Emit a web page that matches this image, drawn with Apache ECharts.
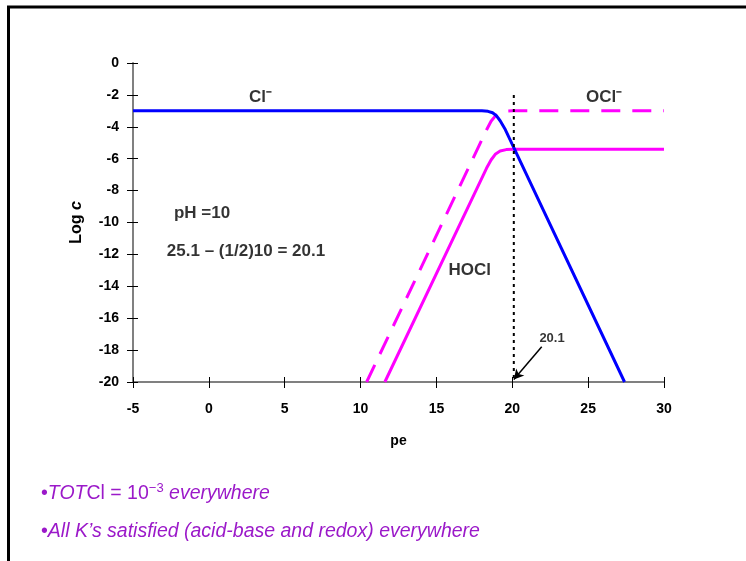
<!DOCTYPE html>
<html>
<head>
    <meta charset="utf-8">
    <title>Log c vs pe</title>
    <script src="https://cdn.jsdelivr.net/npm/echarts@6/dist/echarts.min.js"></script>
    <style>
        html, body { margin: 0; padding: 0; background: #fff; }
        #main { width: 746px; height: 561px; }
    </style>
</head>
<body>
<div id="main"></div>
<script type="text/javascript">
    // 轴刻度
    var xTicks = [-5, 0, 5, 10, 15, 20, 25, 30];
    var yTicks = [0, -2, -4, -6, -8, -10, -12, -14, -16, -18, -20];

    // Cl- (blue)
    var clMinus = [[-5, -3], [18.0, -3], [18.4, -3.03], [18.7, -3.12], [18.95, -3.3],
                   [19.2, -3.62], [19.5, -4.1], [27.4, -20]];
    // OCl- (dashed magenta)
    var oclMinus = [[10.4, -20], [18.3, -4.2], [18.6, -3.65], [18.9, -3.3], [19.2, -3.1],
                    [19.6, -3.02], [20, -3], [30, -3]];
    // HOCl (solid magenta)
    var hocl = [[11.6, -20], [18.3, -6.6], [18.6, -6.08], [18.9, -5.7], [19.2, -5.52],
                [19.6, -5.43], [20, -5.4], [30, -5.4]];
    // pe = 20.1 marker
    var peMark = [[20.1, -2], [20.1, -20]];
    var arrowFrom = [21.94, -17.79];
    var arrowTo = [20.1, -19.85];

    // chart text labels [pe, logc, text]
    var notes = [
        [3.4, -2.13, 'Cl\u207B'],
        [26.05, -2.13, 'OCl\u207B'],
        [17.2, -12.98, 'HOCl'],
        [-0.45, -9.42, 'pH =10'],
        [2.45, -11.83, '25.1 \u2013 (1/2)10 = 20.1']
    ];

    var myChart = echarts.init(document.getElementById('main'));
    var purple = '#9b19c9';
    var fontFam = 'Arial, "Liberation Sans", sans-serif';

    myChart.setOption({
        animation: false,
        backgroundColor: '#fff',
        grid: { left: 133, right: 82, top: 63, bottom: 179 },
        xAxis: [{
            type: 'value', min: -5, max: 30, interval: 5,
            name: 'pe', nameLocation: 'middle', nameGap: 52,
            nameTextStyle: { fontWeight: 'bold', fontSize: 14, color: '#000', fontFamily: fontFam },
            axisLine: { onZero: false, lineStyle: { color: '#808080', width: 2 } },
            axisTick: { length: 6, lineStyle: { color: '#000', width: 1 } },
            axisLabel: { fontWeight: 'bold', fontSize: 14, color: '#000', margin: 20, fontFamily: fontFam },
            splitLine: { show: false }
        }, {
            // 内侧刻度
            type: 'value', min: -5, max: 30, interval: 5, position: 'bottom',
            axisLine: { show: false, onZero: false },
            axisTick: { inside: true, length: 5, lineStyle: { color: '#000', width: 1 } },
            axisLabel: { show: false },
            splitLine: { show: false }
        }],
        yAxis: [{
            type: 'value', min: -20, max: 0, interval: 2,
            name: 'Log {i|c}', nameLocation: 'middle', nameGap: 48, nameRotate: 90,
            nameTextStyle: {
                fontWeight: 'bold', fontSize: 16, color: '#000', fontFamily: fontFam,
                rich: { i: { fontStyle: 'italic', fontWeight: 'bold', fontSize: 16, fontFamily: fontFam } }
            },
            axisLine: { onZero: false, lineStyle: { color: '#808080', width: 2 } },
            axisTick: { length: 6, lineStyle: { color: '#000', width: 1 } },
            axisLabel: { fontWeight: 'bold', fontSize: 14, color: '#000', margin: 14, fontFamily: fontFam },
            splitLine: { show: false }
        }, {
            type: 'value', min: -20, max: 0, interval: 2, position: 'left',
            axisLine: { show: false, onZero: false },
            axisTick: { inside: true, length: 5, lineStyle: { color: '#000', width: 1 } },
            axisLabel: { show: false },
            splitLine: { show: false }
        }],
        series: [{
            name: 'Cl-', type: 'line', data: clMinus, symbol: 'none', z: 5,
            lineStyle: { color: '#0000ff', width: 3 }
        }, {
            name: 'OCl-', type: 'line', data: oclMinus, symbol: 'none', z: 4,
            lineStyle: { color: '#ff00ff', width: 3, type: [19, 12] }
        }, {
            name: 'HOCl', type: 'line', data: hocl, symbol: 'none', z: 4,
            lineStyle: { color: '#ff00ff', width: 3 }
        }, {
            name: 'mark', type: 'line', data: peMark, symbol: 'none', z: 6,
            lineStyle: { color: '#000', width: 2, type: [3, 4] },
            markLine: {
                silent: true, symbol: ['none', 'arrow'], symbolSize: [8, 10],
                lineStyle: { color: '#000', width: 1.5, type: 'solid' },
                label: { show: false },
                data: [[{ coord: arrowFrom }, { coord: arrowTo }]]
            }
        }, {
            name: 'notes', type: 'scatter', symbolSize: 0, z: 7,
            data: notes.map(function (n) { return { value: [n[0], n[1]], name: n[2] }; }),
            label: {
                show: true, position: 'inside', formatter: '{b}',
                color: '#000', fontWeight: 'bold', fontSize: 17, fontFamily: fontFam
            }
        }, {
            name: 'peLabel', type: 'scatter', symbolSize: 0, z: 7,
            data: [{ value: [22.62, -17.24], name: '20.1' }],
            label: {
                show: true, position: 'inside', formatter: '{b}',
                color: '#000', fontWeight: 'bold', fontSize: 13, fontFamily: fontFam
            }
        }],
        graphic: [
            // 外框
            { type: 'line', shape: { x1: 7, y1: 7, x2: 746, y2: 7 }, style: { stroke: '#000', lineWidth: 3 } },
            { type: 'line', shape: { x1: 8.5, y1: 6, x2: 8.5, y2: 561 }, style: { stroke: '#000', lineWidth: 3 } },
            {
                type: 'text', left: 41, top: 482,
                style: {
                    text: '\u2022{i|TOT}Cl = 10{sup|\u22123} {i|everywhere}',
                    fill: purple, fontSize: 19.5, fontFamily: fontFam,
                    rich: {
                        i: { fontStyle: 'italic', fontSize: 19.5, fill: purple, fontFamily: fontFam },
                        sup: { fontSize: 13, fill: purple, verticalAlign: 'top', padding: [0, 0, 10, 0], fontFamily: fontFam }
                    }
                }
            },
            {
                type: 'text', left: 41, top: 522,
                style: {
                    text: '\u2022{i|All K\u2019s satisfied (acid-base and redox) everywhere}',
                    fill: purple, fontSize: 19.5, fontFamily: fontFam,
                    rich: {
                        i: { fontStyle: 'italic', fontSize: 19.5, fill: purple, fontFamily: fontFam }
                    }
                }
            }
        ]
    });
</script>
</body>
</html>
